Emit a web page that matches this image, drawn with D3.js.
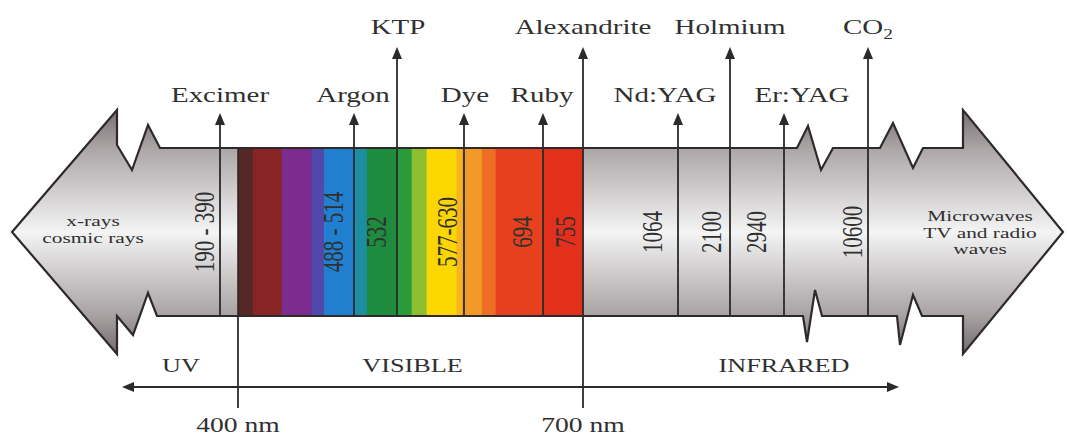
<!DOCTYPE html>
<html>
<head>
<meta charset="utf-8">
<script src="https://d3js.org/d3.v7.min.js"></script>
<style>
  html, body { margin: 0; padding: 0; background: #fff; }
  svg text { font-family: "Liberation Serif", "Times New Roman", serif; fill: #303030; }
</style>
</head>
<body>
<script>
// ---- data ----
var lasers      = ["Excimer", "Argon", "KTP", "Dye", "Ruby", "Alexandrite", "Nd:YAG", "Holmium", "Er:YAG", "CO2"];
var laserNm     = [290, 501, 532, 603, 694, 755, 1064, 2100, 2940, 10600];
var rangeLabels = ["190 - 390", "488 - 514", "532", "577-630", "694", "755", "1064", "2100", "2940", "10600"];

// visible spectrum stripes, edges in nm
var stripeEdges  = [400, 413, 438, 464, 475, 502, 512, 538, 551, 564, 590, 595, 612, 624, 665, 700];
var stripeColors = ["#552727", "#892424", "#7c2b8e", "#4f4aa9", "#2080cf", "#1b8e9f", "#1f8b3f",
                    "#2a9a3a", "#8cbf2f", "#fbd600", "#f6b322", "#f29a27", "#ec6f24", "#e6401f", "#e3301c"];

var regions     = ["UV", "VISIBLE", "INFRARED"];
var boundaryNm  = [400, 700];
var leftText    = ["x-rays", "cosmic rays"];
var rightText   = ["Microwaves", "TV and radio", "waves"];

// ---- layout ----
var W = 1067, H = 435;
var yTop = 148, yBot = 316, yMid = 232;
var SX = 1.38;                        // the artwork's type is stretched horizontally
var tier   = [1, 1, 0, 1, 1, 0, 1, 0, 1, 0];      // 1 = lower label row
var tierY  = [34, 102], tipY = [47, 113];
var labDx  = [0, -1, 1, 1, -1, 0, -13, 0, 18, 0];
var rotDx  = [-16, -21, -21, -17, -21, -18, -26, -19, -28, -16];

// schematic (not to scale) wavelength -> x
var x = d3.scaleLinear()
    .domain([290, 400, 501, 532, 603, 694, 700, 755, 1064, 2100, 2940, 10600])
    .range([220, 238, 354, 397, 464, 543, 583, 583, 678, 730, 784, 868]);
var xs = d3.scaleLinear().domain([400, 700]).range([x(400), x(700)]);

var svg = d3.select("body").append("svg")
    .attr("width", W).attr("height", H);

var defs = svg.append("defs");
var g1 = defs.append("linearGradient").attr("id", "metal")
    .attr("gradientUnits", "userSpaceOnUse")
    .attr("x1", 0).attr("x2", 0).attr("y1", 110).attr("y2", 354);
[[0, "#78706f"], [0.16, "#aca6a7"], [0.5, "#f4f4f4"], [0.84, "#a8a2a3"], [1, "#736b6c"]]
  .forEach(function(s) { g1.append("stop").attr("offset", s[0]).attr("stop-color", s[1]); });

// big double-headed arrow outline
var arrowPts = [
  [12, yMid], [117, 110], [117, 145], [132, 170], [148, 125], [160, yTop],
  [797, yTop], [808, 126], [821, 170], [833, yTop],
  [880, yTop], [893, 123], [913, 168], [923, yTop],
  [963, yTop], [963, 110], [1063, yMid], [963, 354], [963, yBot],
  [922, yBot], [913, 295], [900, 345], [897, yBot],
  [822, yBot], [815, 290], [807, 342], [803, yBot],
  [157, yBot], [148, 293], [133, 335], [117, yBot], [117, 354]
];
var shape = d3.line().curve(d3.curveLinearClosed);

svg.append("path").attr("d", shape(arrowPts)).attr("fill", "url(#metal)");

// visible band
var stripes = d3.range(stripeColors.length).map(function(i) {
  return { a: stripeEdges[i], b: stripeEdges[i + 1], c: stripeColors[i] };
});
svg.append("g").selectAll("rect").data(stripes).enter().append("rect")
    .attr("x", function(d) { return xs(d.a); })
    .attr("width", function(d) { return xs(d.b) - xs(d.a) + 0.5; })
    .attr("y", yTop).attr("height", yBot - yTop)
    .attr("fill", function(d) { return d.c; });
svg.append("line").attr("x1", xs(400)).attr("x2", xs(400)).attr("y1", yTop).attr("y2", yBot)
    .attr("stroke", "#2a2020").attr("stroke-width", 1.5);

svg.append("path").attr("d", shape(arrowPts))
    .attr("fill", "none").attr("stroke", "#2e2a2b").attr("stroke-width", 2.2)
    .attr("stroke-linejoin", "miter");

function stretched(sel, tx, ty, txt, size) {
  return sel.append("text")
      .attr("transform", "translate(" + tx + "," + ty + ") scale(" + SX + ",1)")
      .attr("text-anchor", "middle")
      .attr("font-size", size)
      .text(txt);
}

// laser marker lines
var lz = svg.append("g");
lasers.forEach(function(name, i) {
  var px = x(laserNm[i]), ty = tipY[tier[i]];
  lz.append("line").attr("x1", px).attr("x2", px).attr("y1", ty + 6).attr("y2", yBot)
      .attr("stroke", "#2a2a2a").attr("stroke-width", 1.8);
  lz.append("path")
      .attr("d", "M" + (px - 5) + "," + (ty + 12) + "L" + px + "," + ty + "L" + (px + 5) + "," + (ty + 12) + "Z")
      .attr("fill", "#2a2a2a");
  var t = stretched(lz, px + labDx[i], tierY[tier[i]], "", 21);
  if (name === "CO2") {
    t.append("tspan").text("CO");
    t.append("tspan").attr("dy", 5).attr("font-size", 14).text("2");
  } else {
    t.text(name);
  }
  // rotated wavelength label
  lz.append("text")
      .attr("transform", "translate(" + (px + rotDx[i]) + "," + yMid + ") rotate(-90) scale(1," + SX + ")")
      .attr("text-anchor", "middle")
      .attr("dy", "0.35em")
      .attr("font-size", 21)
      .attr("fill", "#1e1e1e")
      .text(rangeLabels[i]);
});

// side texts
leftText.forEach(function(t, i) { stretched(svg, 93, 226 + i * 17, t, 15.5); });
rightText.forEach(function(t, i) { stretched(svg, 980, 221 + i * 16.5, t, 15.5); });

// bottom axis
var axY = 387, axL = 122, axR = 899;
svg.append("line").attr("x1", axL + 8).attr("x2", axR - 8).attr("y1", axY).attr("y2", axY)
    .attr("stroke", "#2a2a2a").attr("stroke-width", 1.8);
svg.append("path").attr("d", "M" + axL + "," + axY + "l12,-5l0,10Z").attr("fill", "#2a2a2a");
svg.append("path").attr("d", "M" + axR + "," + axY + "l-12,-5l0,10Z").attr("fill", "#2a2a2a");

boundaryNm.forEach(function(nm) {
  var px = x(nm);
  svg.append("line").attr("x1", px).attr("x2", px).attr("y1", yBot).attr("y2", 408)
      .attr("stroke", "#2a2a2a").attr("stroke-width", 1.8);
  stretched(svg, px, 432, nm + " nm", 20);
});

var regionX = [(axL + x(400)) / 2 + 1, (x(400) + x(700)) / 2 + 2, x(2940)];
regions.forEach(function(r, i) { stretched(svg, regionX[i], 372, r, 19); });
</script>
</body>
</html>
